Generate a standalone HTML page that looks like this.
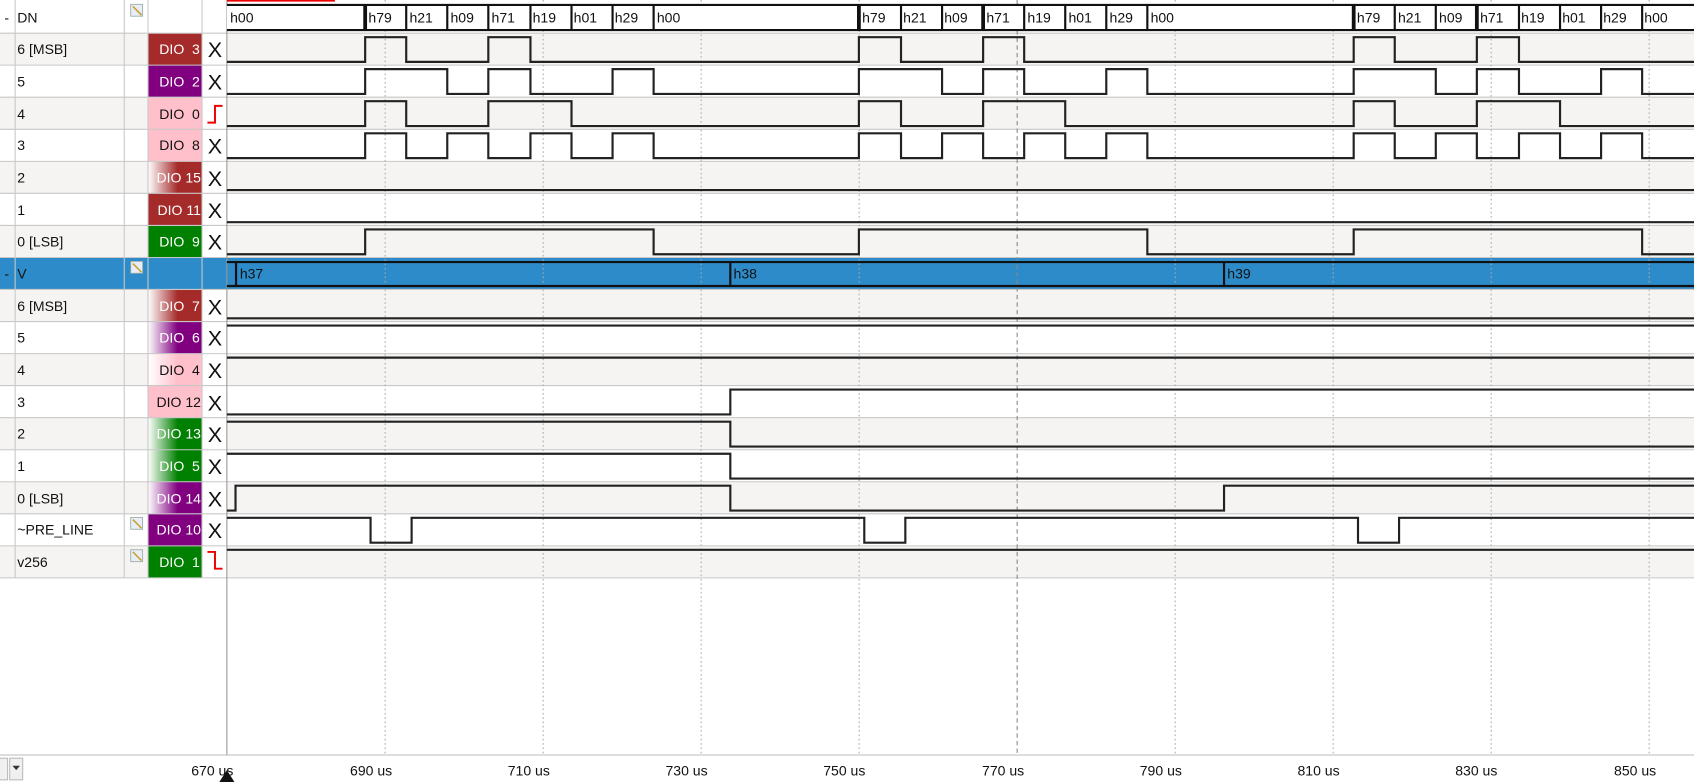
<!DOCTYPE html>
<html><head><meta charset="utf-8"><style>
html,body{margin:0;padding:0;background:#fff;overflow:hidden}
svg{display:block}
text{font-family:"Liberation Sans",sans-serif;font-size:13px;fill:#111}
.w{fill:#fff}
.wave{fill:none;stroke:#222;stroke-width:2}
.sep{stroke:#c8c8c8;stroke-width:1}
.grid{stroke:#aaa;stroke-width:1;stroke-dasharray:1.5 2.5}
.x{font-size:20px}
</style></head><body>
<svg width="1694" height="782" viewBox="0 0 1568 724" preserveAspectRatio="none" xmlns="http://www.w3.org/2000/svg">
<defs>
<linearGradient id="gb" x1="0" x2="1"><stop offset="0" stop-color="#fff"/><stop offset="0.55" stop-color="#a52a2a"/></linearGradient>
<linearGradient id="gp" x1="0" x2="1"><stop offset="0" stop-color="#fff"/><stop offset="0.55" stop-color="#800080"/></linearGradient>
<linearGradient id="gk" x1="0" x2="1"><stop offset="0" stop-color="#fff"/><stop offset="0.55" stop-color="#ffc0cb"/></linearGradient>
<linearGradient id="gg" x1="0" x2="1"><stop offset="0" stop-color="#fff"/><stop offset="0.55" stop-color="#008000"/></linearGradient>
</defs>
<rect width="1568" height="724" fill="#fff"/>
<g fill="#f5f4f2">
<rect x="0" y="30.7" width="1568" height="29.7"/>
<rect x="0" y="90" width="1568" height="29.7"/>
<rect x="0" y="149.4" width="1568" height="29.7"/>
<rect x="0" y="208.7" width="1568" height="29.7"/>
<rect x="0" y="268" width="1568" height="29.7"/>
<rect x="0" y="327.4" width="1568" height="29.7"/>
<rect x="0" y="386.7" width="1568" height="29.7"/>
<rect x="0" y="446" width="1568" height="29.7"/>
<rect x="0" y="505.4" width="1568" height="29.7"/>
</g>
<rect x="0" y="238.4" width="1568" height="29.7" fill="#2e8bc9"/>
<rect x="137" y="30.7" width="50" height="29.7" fill="#a52a2a"/>
<rect x="137" y="60.3" width="50" height="29.7" fill="#800080"/>
<rect x="137" y="90" width="50" height="29.7" fill="#ffc0cb"/>
<rect x="137" y="119.7" width="50" height="29.7" fill="#ffc0cb"/>
<rect x="137" y="149.4" width="50" height="29.7" fill="url(#gb)"/>
<rect x="137" y="179" width="50" height="29.7" fill="#a52a2a"/>
<rect x="137" y="208.7" width="50" height="29.7" fill="#008000"/>
<rect x="137" y="268" width="50" height="29.7" fill="url(#gb)"/>
<rect x="137" y="297.7" width="50" height="29.7" fill="url(#gp)"/>
<rect x="137" y="327.4" width="50" height="29.7" fill="url(#gk)"/>
<rect x="137" y="357" width="50" height="29.7" fill="#ffc0cb"/>
<rect x="137" y="386.7" width="50" height="29.7" fill="url(#gg)"/>
<rect x="137" y="416.4" width="50" height="29.7" fill="url(#gg)"/>
<rect x="137" y="446" width="50" height="29.7" fill="url(#gp)"/>
<rect x="137" y="475.7" width="50" height="29.7" fill="#800080"/>
<rect x="137" y="505.4" width="50" height="29.7" fill="#008000"/>
<rect x="187" y="0" width="23" height="535" fill="#fff"/>
<rect x="187" y="238.4" width="23" height="29.7" fill="#2e8bc9"/>
<g class="sep">
<line x1="0" y1="30.7" x2="1568" y2="30.7"/><line x1="0" y1="60.3" x2="1568" y2="60.3"/>
<line x1="0" y1="90" x2="1568" y2="90"/><line x1="0" y1="119.7" x2="1568" y2="119.7"/>
<line x1="0" y1="149.4" x2="1568" y2="149.4"/><line x1="0" y1="179" x2="1568" y2="179"/>
<line x1="0" y1="208.7" x2="1568" y2="208.7"/><line x1="0" y1="238.4" x2="1568" y2="238.4"/>
<line x1="0" y1="268" x2="1568" y2="268"/><line x1="0" y1="297.7" x2="1568" y2="297.7"/>
<line x1="0" y1="327.4" x2="1568" y2="327.4"/><line x1="0" y1="357" x2="1568" y2="357"/>
<line x1="0" y1="386.7" x2="1568" y2="386.7"/><line x1="0" y1="416.4" x2="1568" y2="416.4"/>
<line x1="0" y1="446" x2="1568" y2="446"/><line x1="0" y1="475.7" x2="1568" y2="475.7"/>
<line x1="0" y1="505.4" x2="1568" y2="505.4"/><line x1="0" y1="535" x2="1568" y2="535"/>
<line x1="14" y1="0" x2="14" y2="535"/><line x1="115" y1="0" x2="115" y2="535"/>
<line x1="137" y1="0" x2="137" y2="535"/><line x1="187" y1="0" x2="187" y2="535"/>
<line x1="210" y1="0" x2="210" y2="699" stroke="#999"/>
<line x1="0" y1="699" x2="1568" y2="699" stroke="#bbb"/>
</g>
<g class="grid">
<line x1="356.5" y1="0" x2="356.5" y2="699"/><line x1="502.75" y1="0" x2="502.75" y2="699"/>
<line x1="649" y1="0" x2="649" y2="699"/><line x1="795.25" y1="0" x2="795.25" y2="699"/>
<line x1="941.5" y1="0" x2="941.5" y2="699" stroke="#888" stroke-dasharray="4 3"/><line x1="1087.75" y1="0" x2="1087.75" y2="699"/>
<line x1="1234" y1="0" x2="1234" y2="699"/><line x1="1380.25" y1="0" x2="1380.25" y2="699"/>
<line x1="1526.5" y1="0" x2="1526.5" y2="699"/>
</g>
<rect x="210" y="0" width="100" height="1.5" fill="#e00"/>
<text x="4" y="21">-</text><text x="16" y="21">DN</text>
<text x="16" y="50">6 [MSB]</text><text x="16" y="80">5</text><text x="16" y="110">4</text>
<text x="16" y="139">3</text><text x="16" y="169">2</text><text x="16" y="199">1</text>
<text x="16" y="228">0 [LSB]</text>
<text x="4" y="258">-</text><text x="16" y="258">V</text>
<text x="16" y="288">6 [MSB]</text><text x="16" y="317">5</text><text x="16" y="347">4</text>
<text x="16" y="377">3</text><text x="16" y="406">2</text><text x="16" y="436">1</text>
<text x="16" y="466">0 [LSB]</text><text x="16" y="495">~PRE_LINE</text><text x="16" y="525">v256</text>
<g fill="#e8eef5" stroke="#9aa" stroke-width="0.8">
<rect x="121" y="4" width="11" height="11"/><rect x="121" y="242" width="11" height="11"/>
<rect x="121" y="479" width="11" height="11"/><rect x="121" y="509" width="11" height="11"/>
</g>
<g stroke="#c9a23a" stroke-width="1.5">
<line x1="123" y1="6" x2="131" y2="14"/><line x1="123" y1="244" x2="131" y2="252"/>
<line x1="123" y1="481" x2="131" y2="489"/><line x1="123" y1="511" x2="131" y2="519"/>
</g>
<g text-anchor="end">
<text x="185" y="50" class="w" xml:space="preserve">DIO  3</text>
<text x="185" y="80" class="w" xml:space="preserve">DIO  2</text>
<text x="185" y="110" xml:space="preserve">DIO  0</text>
<text x="185" y="139" xml:space="preserve">DIO  8</text>
<text x="186" y="169" class="w">DIO 15</text>
<text x="186" y="199" class="w">DIO 11</text>
<text x="185" y="228" class="w" xml:space="preserve">DIO  9</text>
<text x="185" y="288" class="w" xml:space="preserve">DIO  7</text>
<text x="185" y="317" class="w" xml:space="preserve">DIO  6</text>
<text x="185" y="347" xml:space="preserve">DIO  4</text>
<text x="186" y="377">DIO 12</text>
<text x="186" y="406" class="w">DIO 13</text>
<text x="185" y="436" class="w" xml:space="preserve">DIO  5</text>
<text x="186" y="466" class="w">DIO 14</text>
<text x="186" y="495" class="w">DIO 10</text>
<text x="185" y="525" class="w" xml:space="preserve">DIO  1</text>
</g>
<g class="x" text-anchor="middle">
<text x="199" y="53" class="x">X</text><text x="199" y="83" class="x">X</text>
<text x="199" y="142" class="x">X</text><text x="199" y="172" class="x">X</text>
<text x="199" y="202" class="x">X</text><text x="199" y="231" class="x">X</text>
<text x="199" y="291" class="x">X</text><text x="199" y="320" class="x">X</text>
<text x="199" y="350" class="x">X</text><text x="199" y="380" class="x">X</text>
<text x="199" y="409" class="x">X</text><text x="199" y="439" class="x">X</text>
<text x="199" y="469" class="x">X</text><text x="199" y="498" class="x">X</text>
</g>
<path d="M192 113.5 H199 V98 H206" fill="none" stroke="#e00" stroke-width="1.8"/>
<path d="M192 511 H199 V526.5 H206" fill="none" stroke="#e00" stroke-width="1.8"/>
<rect x="210" y="4.6" width="1358" height="23.2" fill="#fff"/>
<g stroke="#111" fill="none">
<line x1="210" y1="4.6" x2="1568" y2="4.6" stroke-width="2"/>
<line x1="210" y1="27.8" x2="1568" y2="27.8" stroke-width="2"/>
<g stroke-width="2">
<line x1="376" y1="4.6" x2="376" y2="27.8"/><line x1="414" y1="4.6" x2="414" y2="27.8"/>
<line x1="452" y1="4.6" x2="452" y2="27.8"/><line x1="491" y1="4.6" x2="491" y2="27.8"/>
<line x1="529" y1="4.6" x2="529" y2="27.8"/><line x1="567" y1="4.6" x2="567" y2="27.8"/>
<line x1="605" y1="4.6" x2="605" y2="27.8"/>
<line x1="834" y1="4.6" x2="834" y2="27.8"/><line x1="872" y1="4.6" x2="872" y2="27.8"/>
<line x1="910" y1="4.6" x2="910" y2="27.8"/><line x1="948" y1="4.6" x2="948" y2="27.8"/>
<line x1="986" y1="4.6" x2="986" y2="27.8"/><line x1="1024" y1="4.6" x2="1024" y2="27.8"/>
<line x1="1062" y1="4.6" x2="1062" y2="27.8"/>
<line x1="1291" y1="4.6" x2="1291" y2="27.8"/><line x1="1329" y1="4.6" x2="1329" y2="27.8"/>
<line x1="1367" y1="4.6" x2="1367" y2="27.8"/><line x1="1406" y1="4.6" x2="1406" y2="27.8"/>
<line x1="1444" y1="4.6" x2="1444" y2="27.8"/><line x1="1482" y1="4.6" x2="1482" y2="27.8"/>
<line x1="1520" y1="4.6" x2="1520" y2="27.8"/>
</g>
<g stroke-width="3.5">
<line x1="338" y1="4.6" x2="338" y2="27.8"/><line x1="795" y1="4.6" x2="795" y2="27.8"/>
<line x1="1253" y1="4.6" x2="1253" y2="27.8"/><line x1="910" y1="4.6" x2="910" y2="27.8"/>
<line x1="1367" y1="4.6" x2="1367" y2="27.8"/>
</g>
</g>
<g>
<text x="213" y="21">h00</text>
<text x="341" y="21">h79</text><text x="379" y="21">h21</text><text x="417" y="21">h09</text><text x="455" y="21">h71</text>
<text x="493" y="21">h19</text><text x="531" y="21">h01</text><text x="569" y="21">h29</text><text x="608" y="21">h00</text>
<text x="798" y="21">h79</text><text x="836" y="21">h21</text><text x="874" y="21">h09</text><text x="913" y="21">h71</text>
<text x="951" y="21">h19</text><text x="989" y="21">h01</text><text x="1027" y="21">h29</text><text x="1065" y="21">h00</text>
<text x="1256" y="21">h79</text><text x="1294" y="21">h21</text><text x="1332" y="21">h09</text><text x="1370" y="21">h71</text>
<text x="1408" y="21">h19</text><text x="1446" y="21">h01</text><text x="1484" y="21">h29</text><text x="1522" y="21">h00</text>
</g>
<g stroke="#111" stroke-width="2">
<line x1="210" y1="242.6" x2="1568" y2="242.6"/><line x1="210" y1="264.8" x2="1568" y2="264.8"/>
<line x1="218.5" y1="242.6" x2="218.5" y2="264.8"/><line x1="676" y1="242.6" x2="676" y2="264.8"/>
<line x1="1133" y1="242.6" x2="1133" y2="264.8"/>
</g>
<text x="222" y="258">h37</text><text x="679" y="258">h38</text><text x="1136" y="258">h39</text>
<g class="wave">
<path d="M210 57.3 H338 V34.4 H376 V57.3 H452 V34.4 H491 V57.3 H795 V34.4 H834 V57.3 H910 V34.4 H948 V57.3 H1253 V34.4 H1291 V57.3 H1367 V34.4 H1406 V57.3 H1568"/>
<path d="M210 87 H338 V64 H414 V87 H452 V64 H491 V87 H567 V64 H605 V87 H795 V64 H872 V87 H910 V64 H948 V87 H1024 V64 H1062 V87 H1253 V64 H1329 V87 H1367 V64 H1406 V87 H1482 V64 H1520 V87 H1568"/>
<path d="M210 116.7 H338 V93.7 H376 V116.7 H452 V93.7 H529 V116.7 H795 V93.7 H834 V116.7 H910 V93.7 H986 V116.7 H1253 V93.7 H1291 V116.7 H1367 V93.7 H1444 V116.7 H1568"/>
<path d="M210 146.4 H338 V123.4 H376 V146.4 H414 V123.4 H452 V146.4 H491 V123.4 H529 V146.4 H567 V123.4 H605 V146.4 H795 V123.4 H834 V146.4 H872 V123.4 H910 V146.4 H948 V123.4 H986 V146.4 H1024 V123.4 H1062 V146.4 H1253 V123.4 H1291 V146.4 H1329 V123.4 H1367 V146.4 H1406 V123.4 H1444 V146.4 H1482 V123.4 H1520 V146.4 H1568"/>
<path d="M210 176 H1568"/>
<path d="M210 205.7 H1568"/>
<path d="M210 235.4 H338 V212.4 H605 V235.4 H795 V212.4 H1062 V235.4 H1253 V212.4 H1520 V235.4 H1568"/>
<path d="M210 294.7 H1568"/>
<path d="M210 301.4 H1568"/>
<path d="M210 331.1 H1568"/>
<path d="M210 383.7 H676 V360.7 H1568"/>
<path d="M210 390.4 H676 V413.4 H1568"/>
<path d="M210 420.1 H676 V443.1 H1568"/>
<path d="M210 472.7 H218 V449.7 H676 V472.7 H1133 V449.7 H1568"/>
<path d="M210 479.4 H343 V502.4 H381 V479.4 H800 V502.4 H838 V479.4 H1257 V502.4 H1295 V479.4 H1568"/>
<path d="M210 509 H1568"/>
</g>
<g text-anchor="end">
<text x="216" y="718">670 us</text><text x="363" y="718">690 us</text><text x="509" y="718">710 us</text>
<text x="655" y="718">730 us</text><text x="801" y="718">750 us</text><text x="948" y="718">770 us</text>
<text x="1094" y="718">790 us</text><text x="1240" y="718">810 us</text><text x="1386" y="718">830 us</text>
<text x="1533" y="718">850 us</text>
</g>
<path d="M210 713 L203 724 H217 Z" fill="#111"/>
<rect x="-2" y="702" width="9" height="20" fill="#f0f0f0" stroke="#bbb"/>
<rect x="9" y="702" width="12" height="20" fill="#f0f0f0" stroke="#bbb"/>
<path d="M11.5 709 H18.5 L15 713 Z" fill="#333"/>
</svg>
</body></html>
